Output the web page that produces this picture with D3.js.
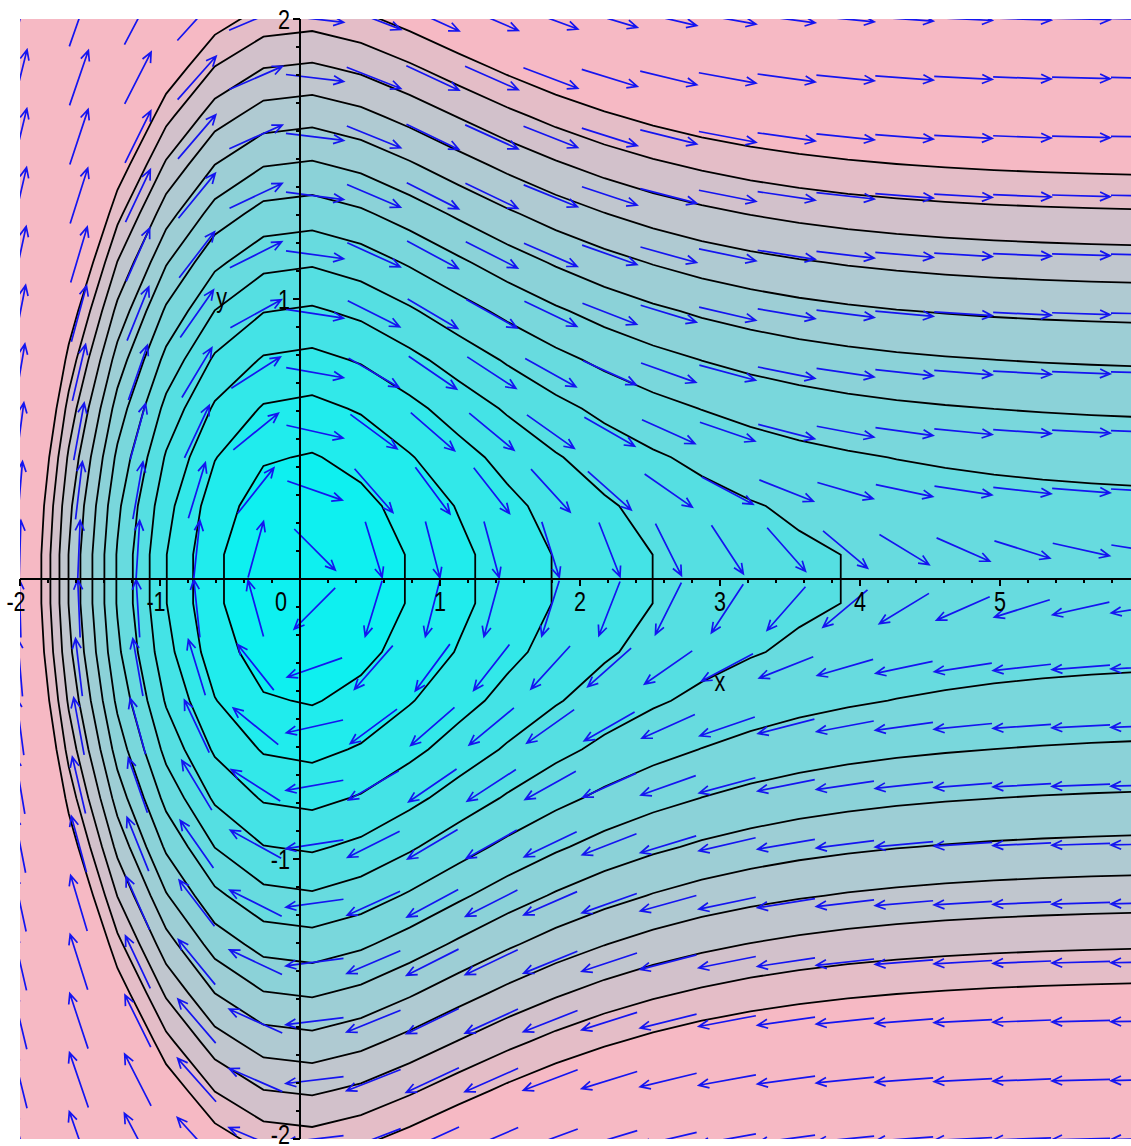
<!DOCTYPE html>
<html>
<head>
<meta charset="utf-8">
<script src="https://cdn.jsdelivr.net/npm/d3@7"></script>
<style>
  body { margin: 0; background: #fff; }
  svg { display: block; }
  text { font-family: "Liberation Sans", Arial, sans-serif; fill: #000; }
</style>
</head>
<body>
<div id="chart"></div>
<script>
// contour levels of the energy (H - 1)
const levels = [0.1, 0.2, 0.3, 0.4, 0.5, 0.6, 0.7, 0.8, 0.9, 1.0, 1.1, 1.2, 1.3];
// potential parameters (right side saturating, left side stiffer)
const wellDepth = [0.553];         // V(x) = c(1-(1+x)e^-x) for x >= 0
const leftShape = [0.275, 0.054];  // V(x) = a x^2 + b |x|^3 for x < 0
// axis ticks and labels
const xTickLabels = [-2, -1, 0, 1, 2, 3, 4, 5];
const yTickLabels = [-2, -1, 1, 2];
const xDomain = [-2, 6];
const yDomain = [-2, 2];
const arrowCount = [20, 20];
const contourGrid = [24, 24];

const width = 1131, height = 1146;
const plot = { left: 20, top: 19, right: 1140, bottom: 1139 };

const x = d3.scaleLinear().domain(xDomain).range([plot.left, plot.right]);
const y = d3.scaleLinear().domain(yDomain).range([plot.bottom, plot.top]);

function potential(t) {
  return t >= 0
    ? wellDepth[0] * (1 - (1 + t) * Math.exp(-t))
    : leftShape[0] * t * t - leftShape[1] * t * t * t;
}
function dPotential(t) {
  return t >= 0
    ? wellDepth[0] * t * Math.exp(-t)
    : 2 * leftShape[0] * t - 3 * leftShape[1] * t * t;
}
function energy(px, py) {
  return Math.sqrt(1 + py * py) - 1 + potential(px);
}

const svg = d3.select("#chart").append("svg")
  .attr("width", width)
  .attr("height", height);

svg.append("defs").append("clipPath")
  .attr("id", "plot-clip")
  .append("rect")
  .attr("x", plot.left).attr("y", plot.top)
  .attr("width", plot.right - plot.left)
  .attr("height", plot.bottom - plot.top);

// band colours from cyan (low) to pink (high)
const color = d3.scaleLinear()
  .domain([0, levels.length])
  .range(["#0ef0f0", "#f6b9c4"])
  .interpolate(d3.interpolateRgb);

// sample the field on the same coarse grid as the original, padded by one cell
const sx = (xDomain[1] - xDomain[0]) / (contourGrid[0] - 1);
const sy = (yDomain[1] - yDomain[0]) / (contourGrid[1] - 1);
const nx = contourGrid[0] + 2, ny = contourGrid[1] + 2;
const values = new Float64Array(nx * ny);
for (let j = 0; j < ny; j++) {
  for (let i = 0; i < nx; i++) {
    values[i + j * nx] = energy(xDomain[0] + (i - 1) * sx, yDomain[0] + (j - 1) * sy);
  }
}
const contours = d3.contours().size([nx, ny]).smooth(true).thresholds(levels)(values);

const gridToScreen = d3.geoTransform({
  point(px, py) {
    this.stream.point(
      x(xDomain[0] + (px - 1.5) * sx),
      y(yDomain[0] + (py - 1.5) * sy)
    );
  }
});
const path = d3.geoPath(gridToScreen);

const chart = svg.append("g").attr("clip-path", "url(#plot-clip)");

chart.append("rect")
  .attr("x", plot.left).attr("y", plot.top)
  .attr("width", plot.right - plot.left)
  .attr("height", plot.bottom - plot.top)
  .attr("fill", color(0));

chart.selectAll(".band")
  .data(contours)
  .join("path")
  .attr("class", "band")
  .attr("d", path)
  .attr("fill", (d, i) => color(i + 1));

chart.selectAll(".level")
  .data(contours)
  .join("path")
  .attr("class", "level")
  .attr("d", path)
  .attr("fill", "none")
  .attr("stroke", "#000")
  .attr("stroke-width", 1.8)
  .attr("stroke-linejoin", "miter");

// direction field, arrows centred on a 20 x 20 grid, all the same screen length
const ax = d3.range(arrowCount[0]).map(i => xDomain[0] + i * (xDomain[1] - xDomain[0]) / (arrowCount[0] - 1));
const ay = d3.range(arrowCount[1]).map(j => yDomain[0] + j * (yDomain[1] - yDomain[0]) / (arrowCount[1] - 1));
const arrows = [];
ax.forEach(px => ay.forEach(py => arrows.push({ px, py })));

const arrowLen = 58, headLen = 11, headAngle = 0.42;
const kx = x(1) - x(0), ky = y(0) - y(1);

arrows.forEach(a => {
  const u = a.py / Math.sqrt(1 + a.py * a.py);
  const v = -dPotential(a.px);
  let dx = u * kx, dy = -v * ky;
  const n = Math.hypot(dx, dy) || 1;
  dx /= n; dy /= n;
  const cx = x(a.px), cy = y(a.py);
  a.x1 = cx - dx * arrowLen / 2; a.y1 = cy - dy * arrowLen / 2;
  a.x2 = cx + dx * arrowLen / 2; a.y2 = cy + dy * arrowLen / 2;
  const ang = Math.atan2(dy, dx);
  a.h1 = [a.x2 - headLen * Math.cos(ang - headAngle), a.y2 - headLen * Math.sin(ang - headAngle)];
  a.h2 = [a.x2 - headLen * Math.cos(ang + headAngle), a.y2 - headLen * Math.sin(ang + headAngle)];
});

chart.selectAll(".arrow")
  .data(arrows)
  .join("path")
  .attr("class", "arrow")
  .attr("d", d => `M${d.x1},${d.y1}L${d.x2},${d.y2}M${d.h1[0]},${d.h1[1]}L${d.x2},${d.y2}L${d.h2[0]},${d.h2[1]}`)
  .attr("fill", "none")
  .attr("stroke", "#1414f0")
  .attr("stroke-width", 1.7);

// axes through the origin
const axes = svg.append("g");
axes.append("line")
  .attr("x1", x(xDomain[0])).attr("x2", width)
  .attr("y1", y(0)).attr("y2", y(0))
  .attr("stroke", "#000").attr("stroke-width", 2);
axes.append("line")
  .attr("x1", x(0)).attr("x2", x(0))
  .attr("y1", y(yDomain[0])).attr("y2", y(yDomain[1]))
  .attr("stroke", "#000").attr("stroke-width", 2);

const xMinor = d3.range(-10, 31).map(k => k / 5);
axes.selectAll(".xtick")
  .data(xMinor)
  .join("line")
  .attr("x1", d => x(d)).attr("x2", d => x(d))
  .attr("y1", y(0)).attr("y2", d => y(0) + (Number.isInteger(d) ? 7 : 4))
  .attr("stroke", "#000").attr("stroke-width", 2);

const yMinor = d3.range(-20, 21).map(k => k / 10);
axes.selectAll(".ytick")
  .data(yMinor)
  .join("line")
  .attr("x1", x(0)).attr("x2", d => x(0) - (Number.isInteger(d) ? 7 : 4))
  .attr("y1", d => y(d)).attr("y2", d => y(d))
  .attr("stroke", "#000").attr("stroke-width", 2);

axes.selectAll(".xlabel")
  .data(xTickLabels)
  .join("text")
  .attr("transform", d => `translate(${d === 0 ? x(0) - 19 : x(d) - (d < 0 ? 4 : 0)},${y(0) + 32}) scale(0.8,1)`)
  .attr("text-anchor", "middle")
  .style("font-size", "27px")
  .text(d => d);

axes.selectAll(".ylabel")
  .data(yTickLabels)
  .join("text")
  .attr("transform", d => `translate(${x(0) - 10},${Math.min(y(d) + 10, height - 2)}) scale(0.8,1)`)
  .attr("text-anchor", "end")
  .style("font-size", "27px")
  .text(d => d);

axes.append("text")
  .attr("transform", `translate(${x(3)},${y(-0.4)}) scale(0.8,1)`)
  .attr("text-anchor", "middle")
  .style("font-size", "27px")
  .text("x");
axes.append("text")
  .attr("transform", `translate(${x(-0.56)},${y(0.97)}) scale(0.8,1)`)
  .attr("text-anchor", "middle")
  .style("font-size", "27px")
  .text("y");
</script>
</body>
</html>
